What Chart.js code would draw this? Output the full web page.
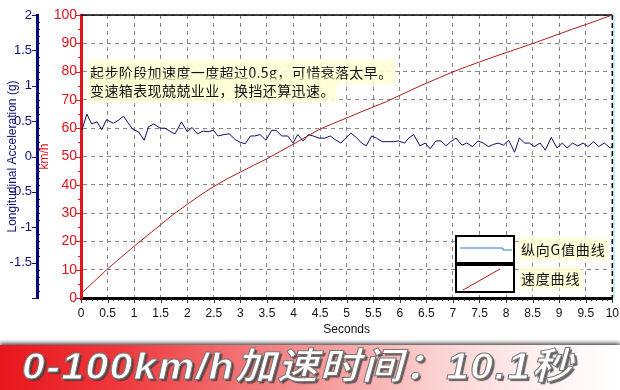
<!DOCTYPE html>
<html>
<head>
<meta charset="utf-8">
<script src="https://cdn.jsdelivr.net/npm/chart.js@4.4.1/dist/chart.umd.min.js"></script>
<style>
  html, body { margin: 0; padding: 0; background: #fff; }
  body { width: 620px; height: 390px; position: relative; overflow: hidden; font-family: "Liberation Sans", Arial, sans-serif; }
  #chart { position: absolute; left: 0; top: 0; }
  .note { position: absolute; left: 90px; top: 63px; font: 14px/18px "Noto Sans CJK SC", sans-serif; letter-spacing: 0.4px; color: #111; }
  .note span { background: rgba(255, 255, 210, 0.85); box-shadow: 0 0 3px 2px rgba(255, 255, 210, 0.85); }
  .lg-box { position: absolute; left: 455px; width: 56px; height: 25px; border: 2px solid #000; background: #fff; }
  .lg-text { position: absolute; left: 521px; font: 14px/18px "Noto Sans CJK SC", sans-serif; letter-spacing: 0.8px; color: #111; background: rgba(255, 255, 210, 0.85); box-shadow: 0 0 3px 2px rgba(255, 255, 210, 0.85); }
  .banner { position: absolute; left: 0; top: 345px; width: 620px; height: 45px;
    background: linear-gradient(to right, #e8161c 0%, #ee3a3e 20%, #f48486 45%, #fbd0d0 70%, #fff2f2 88%, #ffffff 100%);
    box-shadow: 0 -2px 4px rgba(0, 0, 0, 0.7); }
  .banner div { position: absolute; left: 22px; top: 1px; font: italic bold 37px/42px "Liberation Sans", "Noto Sans CJK SC", sans-serif;
    color: #fff; letter-spacing: 1.4px; transform: scaleX(1.1); transform-origin: left center; white-space: nowrap;
    -webkit-text-stroke: 1px #777; text-shadow: 2px 2px 1px rgba(60, 60, 60, 0.8); }
</style>
</head>
<body>
<canvas id="chart" width="620" height="340"></canvas>

<div class="note"><span>起步阶段加速度一度超过0.5g，可惜衰落太早。</span><br><span>变速箱表现兢兢业业，换挡还算迅速。</span></div>

<div class="lg-box" style="top:235px"><svg width="56" height="25"><polyline points="3,11 46,11 46,13 55,13" fill="none" stroke="#2a7bc0" stroke-width="1"/></svg></div>
<div class="lg-box" style="top:264px"><svg width="56" height="25"><line x1="6" y1="24" x2="43" y2="3" stroke="#b01c1c" stroke-width="1"/></svg></div>
<div class="lg-text" style="top:240px">纵向G值曲线</div>
<div class="lg-text" style="top:269px">速度曲线</div>

<div class="banner"><div>0-100km/h加速时间：10.1秒</div></div>

<script>
// speed curve, sampled every 0.25 s
const speedTime = [0, 0.25, 0.5, 0.75, 1, 1.25, 1.5, 1.75, 2, 2.25, 2.5, 2.75, 3, 3.25, 3.5, 3.75, 4, 4.25, 4.5, 4.75,
    5, 5.25, 5.5, 5.75, 6, 6.25, 6.5, 6.75, 7, 7.25, 7.5, 7.75, 8, 8.25, 8.5, 8.75, 9, 9.25, 9.5, 9.75, 10];
const speedKmh = [1.5, 5.9, 10.3, 14.3, 18.3, 22.1, 25.9, 29.7, 33.1, 36.4, 39.4, 42.1, 44.5, 46.9, 49.2, 51.8, 54.4, 57.1, 59.7, 61.7,
    63.6, 65.6, 67.5, 69.4, 71.6, 73.8, 75.9, 77.9, 79.9, 81.7, 83.4, 85.1, 86.7, 88.3, 89.9, 91.6, 93.3, 95, 96.6, 98.3, 100];

// longitudinal acceleration (g)
const gTime = [0.02, 0.11, 0.2, 0.3, 0.39, 0.48, 0.61, 0.7, 0.8, 0.89,
    0.98, 1.08, 1.19, 1.27, 1.37, 1.49, 1.58, 1.71, 1.77, 1.89,
    2.0, 2.09, 2.19, 2.3, 2.39, 2.49, 2.58, 2.69, 2.79, 2.9,
    3.0, 3.09, 3.19, 3.27, 3.37, 3.48, 3.59, 3.67, 3.78, 3.89,
    3.99, 4.08, 4.18, 4.28, 4.37, 4.48, 4.59, 4.69, 4.78, 4.89,
    4.98, 5.08, 5.18, 5.28, 5.37, 5.47, 5.56, 5.67, 5.78, 5.88,
    5.97, 6.09, 6.17, 6.26, 6.38, 6.48, 6.57, 6.68, 6.78, 6.87,
    6.96, 7.06, 7.17, 7.26, 7.37, 7.47, 7.57, 7.67, 7.76, 7.85,
    7.95, 8.05, 8.16, 8.25, 8.35, 8.44, 8.53, 8.64, 8.74, 8.85,
    8.96, 9.06, 9.15, 9.25, 9.35, 9.45, 9.54, 9.65, 9.74, 9.85,
    9.96, 10.0];
const gValue = [0.38, 0.6, 0.46, 0.49, 0.38, 0.52, 0.47, 0.51, 0.57, 0.47,
    0.38, 0.35, 0.23, 0.42, 0.46, 0.4, 0.4, 0.34, 0.32, 0.49,
    0.35, 0.41, 0.32, 0.36, 0.35, 0.37, 0.29, 0.31, 0.32, 0.24,
    0.2, 0.18, 0.29, 0.29, 0.31, 0.23, 0.37, 0.37, 0.29, 0.29,
    0.19, 0.31, 0.22, 0.31, 0.29, 0.26, 0.26, 0.29, 0.24, 0.19,
    0.26, 0.33, 0.27, 0.19, 0.15, 0.29, 0.26, 0.21, 0.21, 0.21,
    0.22, 0.19, 0.26, 0.31, 0.15, 0.19, 0.11, 0.22, 0.22, 0.15,
    0.21, 0.26, 0.16, 0.19, 0.14, 0.22, 0.19, 0.14, 0.17, 0.19,
    0.16, 0.23, 0.06, 0.26, 0.19, 0.19, 0.14, 0.19, 0.09, 0.27,
    0.12, 0.19, 0.12, 0.19, 0.15, 0.19, 0.14, 0.21, 0.14, 0.19,
    0.12, 0.14];

// tick labels
const gTicks = [2, 1.5, 1, 0.5, 0, -0.5, -1, -1.5];
const speedTicks = [0, 10, 20, 30, 40, 50, 60, 70, 80, 90, 100];
const secondTicks = [0, 0.5, 1, 1.5, 2, 2.5, 3, 3.5, 4, 4.5, 5, 5.5, 6, 6.5, 7, 7.5, 8, 8.5, 9, 9.5, 10];

const RED = '#e3121b';
const NAVY = '#10107a';

Chart.defaults.font.family = '"Liberation Sans", Arial, sans-serif';

// frame lines and small tick marks
const framePlugin = {
    id: 'frame',
    beforeDatasetsDraw(chart) {
        const { ctx, chartArea: a } = chart;
        ctx.save();
        ctx.strokeStyle = '#000';
        ctx.lineWidth = 1.5;
        ctx.beginPath();
        ctx.moveTo(a.left, a.top);
        ctx.lineTo(a.right, a.top);
        ctx.stroke();
        ctx.strokeStyle = '#bff4f4';
        ctx.lineWidth = 2;
        ctx.beginPath();
        ctx.moveTo(a.right + 1.5, a.top);
        ctx.lineTo(a.right + 1.5, a.bottom);
        ctx.stroke();
        ctx.strokeStyle = '#000';
        ctx.lineWidth = 1.5;
        ctx.setLineDash([5, 3]);
        ctx.beginPath();
        ctx.moveTo(a.right, a.top);
        ctx.lineTo(a.right, a.bottom);
        ctx.stroke();
        ctx.restore();
    },
    afterDraw(chart) {
        const { ctx, chartArea: a, scales } = chart;
        ctx.save();
        ctx.lineWidth = 1;
        // seconds axis
        ctx.strokeStyle = '#333';
        for (let i = 0; i <= 100; i++) {
            const x = Math.round(scales.x.getPixelForValue(i / 10)) + 0.5;
            ctx.beginPath();
            ctx.moveTo(x, a.bottom + 1);
            ctx.lineTo(x, a.bottom + (i % 5 === 0 ? 5 : 3));
            ctx.stroke();
        }
        // speed axis
        ctx.strokeStyle = RED;
        for (let v = 0; v <= 100; v += 5) {
            const y = Math.round(scales.ySpeed.getPixelForValue(v)) + 0.5;
            ctx.beginPath();
            ctx.moveTo(a.left - 1, y);
            ctx.lineTo(a.left - (v % 10 === 0 ? 5 : 3), y);
            ctx.stroke();
        }
        // g axis
        const gx = scales.yG.right;
        ctx.strokeStyle = NAVY;
        for (let i = -20; i <= 20; i++) {
            const y = Math.round(scales.yG.getPixelForValue(i / 10)) + 0.5;
            ctx.beginPath();
            if (i % 5 === 0) {
                ctx.moveTo(gx - 1, y);
                ctx.lineTo(gx - 5, y);
            } else {
                ctx.moveTo(gx + 1, y);
                ctx.lineTo(gx + 3, y);
            }
            ctx.stroke();
        }
        ctx.restore();
    }
};

const speedData = speedTime.map((t, i) => ({ x: t, y: speedKmh[i] }));
const gData = gTime.map((t, i) => ({ x: t, y: gValue[i] }));

new Chart(document.getElementById('chart'), {
    type: 'line',
    data: {
        datasets: [{
            label: '速度曲线',
            data: speedData,
            yAxisID: 'ySpeed',
            borderColor: '#b01c1c',
            borderWidth: 1,
            pointRadius: 0,
            tension: 0
        }, {
            label: '纵向G值曲线',
            data: gData,
            yAxisID: 'yG',
            borderColor: '#0c0c66',
            borderWidth: 1,
            pointRadius: 0,
            tension: 0
        }]
    },
    options: {
        responsive: false,
        animation: false,
        devicePixelRatio: 1,
        layout: { padding: { top: 15, right: 0, left: 0, bottom: 0 } },
        plugins: { legend: { display: false }, tooltip: { enabled: false } },
        scales: {
            x: {
                type: 'linear',
                min: 0,
                max: 10,
                afterBuildTicks: scale => { scale.ticks = secondTicks.map(v => ({ value: v })); },
                afterFit: scale => { scale.height = 42; },
                ticks: { color: '#111', font: { size: 12 }, padding: 1, maxRotation: 0, callback: v => String(v) },
                grid: { color: '#858585', lineWidth: 1, drawTicks: true, tickLength: 7, tickColor: 'rgba(0,0,0,0)' },
                border: { color: '#000', width: 3, dash: [4, 4] },
                title: { display: true, text: 'Seconds', color: '#111', font: { size: 12 }, padding: { top: 0, bottom: 3 } }
            },
            ySpeed: {
                type: 'linear',
                position: 'left',
                weight: 0,
                min: 0,
                max: 100,
                afterBuildTicks: scale => { scale.ticks = speedTicks.map(v => ({ value: v })); },
                afterFit: scale => { scale.width = 44; },
                ticks: { color: RED, font: { size: 14 }, padding: 4, callback: v => String(v) },
                grid: { color: '#858585', lineWidth: 1, drawTicks: false },
                border: { color: RED, width: 3, dash: [4, 4] },
                title: { display: true, text: 'km/h', color: RED, font: { size: 12 }, padding: { top: 0, bottom: 0 } }
            },
            yG: {
                type: 'linear',
                position: 'left',
                weight: 1,
                min: -2,
                max: 2,
                afterBuildTicks: scale => { scale.ticks = gTicks.map(v => ({ value: v })); },
                afterFit: scale => { scale.width = 37; },
                ticks: { color: NAVY, font: { size: 13 }, padding: 5, callback: v => String(v) },
                grid: { display: false, drawTicks: false },
                border: { color: '#000080', width: 3 },
                title: { display: true, text: 'Longitudinal Acceleration (g)', color: NAVY, font: { size: 12 }, padding: { top: 5, bottom: 0 } }
            }
        }
    },
    plugins: [framePlugin]
});
</script>
</body>
</html>
